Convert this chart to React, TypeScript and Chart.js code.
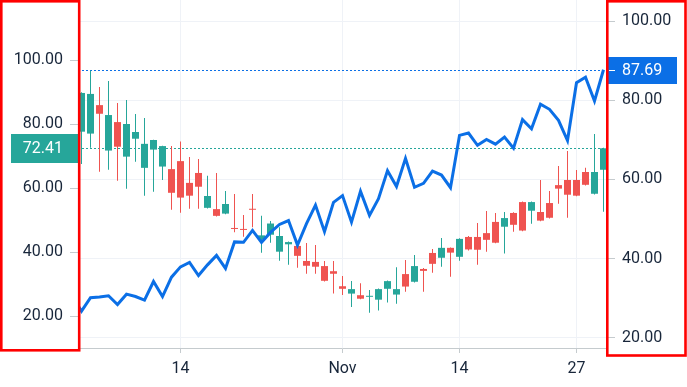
import React, { useEffect, useRef } from 'react';
import { Chart, registerables } from 'chart.js';

Chart.register(...registerables);

// ---------- data ----------
const candleDates = [
  '2022-10-03', '2022-10-04', '2022-10-05', '2022-10-06', '2022-10-07', '2022-10-08', '2022-10-09', '2022-10-10',
  '2022-10-11', '2022-10-12', '2022-10-13', '2022-10-14', '2022-10-15', '2022-10-16', '2022-10-17', '2022-10-18',
  '2022-10-19', '2022-10-20', '2022-10-21', '2022-10-22', '2022-10-23', '2022-10-24', '2022-10-25', '2022-10-26',
  '2022-10-27', '2022-10-28', '2022-10-29', '2022-10-30', '2022-10-31', '2022-11-01', '2022-11-02', '2022-11-03',
  '2022-11-04', '2022-11-05', '2022-11-06', '2022-11-07', '2022-11-08', '2022-11-09', '2022-11-10', '2022-11-11',
  '2022-11-12', '2022-11-13', '2022-11-14', '2022-11-15', '2022-11-16', '2022-11-17', '2022-11-18', '2022-11-19',
  '2022-11-20', '2022-11-21', '2022-11-22', '2022-11-23', '2022-11-24', '2022-11-25', '2022-11-26', '2022-11-27',
  '2022-11-28', '2022-11-29', '2022-11-30',
];

const opens = [
  77.6, 77.0, 85.9, 71.7, 80.6, 69.8, 75.4, 66.3, 72.0, 66.7, 65.9, 68.4, 61.6, 64.7, 53.8, 53.4,
  52.0, 47.5, 47.2, 53.5, 44.0, 45.4, 40.1, 42.4, 41.9, 37.2, 36.9, 35.6, 34.0, 29.3, 27.0, 26.5,
  26.0, 25.1, 28.5, 26.7, 33.1, 30.7, 34.7, 39.7, 38.2, 41.3, 38.5, 44.7, 44.7, 45.9, 49.4, 47.9,
  52.2, 55.6, 52.9, 52.5, 55.3, 60.9, 62.5, 62.5, 65.0, 58.2, 65.7,
];
const highs = [
  89.9, 96.7, 91.6, 93.4, 86.6, 87.5, 83.1, 81.9, 75.1, 73.2, 73.1, 74.5, 69.7, 69.1, 63.8, 64.7,
  59.1, 58.1, 51.6, 58.1, 51.3, 49.7, 47.7, 43.3, 42.9, 42.8, 42.2, 37.2, 37.2, 32.5, 30.9, 30.2,
  28.1, 28.6, 31.1, 35.2, 37.5, 39.1, 35.0, 40.9, 44.4, 41.4, 44.3, 45.0, 49.1, 52.8, 52.2, 52.5,
  52.4, 55.8, 55.8, 62.5, 59.1, 66.9, 71.6, 65.6, 66.3, 76.9, 72.6,
];
const lows = [
  67.5, 72.6, 65.1, 65.7, 62.3, 59.8, 68.2, 57.6, 58.8, 62.5, 53.2, 52.3, 53.5, 53.5, 53.6, 51.1,
  51.8, 46.2, 44.8, 47.7, 39.8, 42.9, 37.3, 36.0, 35.1, 33.2, 33.2, 30.8, 27.0, 26.6, 22.8, 25.2,
  21.0, 21.7, 24.2, 23.8, 27.6, 30.5, 27.6, 33.5, 35.4, 32.3, 37.3, 40.5, 36.0, 40.1, 42.7, 39.5,
  46.3, 46.5, 48.8, 49.6, 50.5, 55.1, 50.7, 57.4, 60.8, 58.0, 52.6,
];
const closes = [
  89.7, 89.4, 83.2, 82.8, 72.9, 80.0, 77.5, 73.8, 75.0, 73.1, 58.5, 57.0, 57.6, 60.4, 57.5, 51.3,
  55.0, 47.2, 46.9, 53.2, 45.2, 48.9, 45.0, 43.1, 38.8, 35.7, 35.4, 31.0, 33.2, 28.5, 28.4, 25.4,
  26.2, 28.4, 30.9, 28.4, 29.2, 35.6, 34.1, 36.3, 41.3, 39.8, 44.1, 40.8, 40.7, 43.8, 42.9, 50.6,
  48.5, 46.7, 55.6, 49.8, 50.7, 59.8, 57.9, 57.6, 61.0, 65.0, 72.41,
];

const lineDates = ['2022-10-02', ...candleDates];
const lineValues = [
  30.5, 26.7, 30.1, 30.3, 30.6, 28.4, 31.0, 30.4, 29.5, 34.2, 30.4, 35.3, 37.9, 39.0, 35.7, 38.4,
  40.8, 37.5, 44.2, 44.1, 47.1, 44.1, 46.6, 48.6, 49.6, 43.4, 48.8, 53.5, 46.8, 54.2, 55.9, 49.2,
  57.0, 50.9, 55.1, 62.2, 58.2, 65.3, 58.0, 59.0, 62.1, 61.1, 57.9, 71.1, 71.7, 68.6, 70.1, 68.9,
  70.7, 67.9, 75.1, 72.8, 79.0, 77.7, 74.9, 69.8, 84.4, 85.8, 79.8, 87.69,
];

const timeTickDates = ['2022-10-14', '2022-11-01', '2022-11-14', '2022-11-27'];
const timeTickLabels = ['14', 'Nov', '14', '27'];
const leftTicks = [20, 40, 60, 80, 100];
const rightTicks = [20, 40, 60, 80, 100];

// ---------- view / style ----------
const W = 687;
const H = 387;
const UP = '#26a69a';
const DOWN = '#ef5350';
const LINE = '#0b6fe6';
const TEXT = '#18263a';
const BORDER = '#c5cbce';
const GRID = '#eff2f7';
const FONT = { family: 'Roboto', size: 16 };

const dayNum = (s: string) => Math.round((Date.parse(s) - Date.parse('2022-10-01')) / 86400000) + 1;

const X_MIN = 14 - 102.5 / 9;
const X_MAX = X_MIN + 528 / 9;
const LEFT_MIN = 10;
const LEFT_MAX = 118.75;
const RIGHT_MIN = 17.4;
const RIGHT_MAX = 105.31;

const candleColor = (i: number) => (closes[i] >= opens[i] ? UP : DOWN);

const overlayPlugin = {
  id: 'overlay',
  beforeDatasetsDraw(chart: any) {
    const { ctx, chartArea, scales } = chart;
    ctx.save();
    ctx.beginPath();
    ctx.rect(chartArea.left, chartArea.top, chartArea.right - chartArea.left, chartArea.bottom - chartArea.top);
    ctx.clip();
    ctx.lineWidth = 1;
    ctx.setLineDash([2, 2]);
    const lines = [
      { y: scales.y.getPixelForValue(closes[closes.length - 1]), c: UP },
      { y: scales.y2.getPixelForValue(lineValues[lineValues.length - 1]), c: LINE },
    ];
    for (const l of lines) {
      const yy = Math.round(l.y) + 0.5;
      ctx.strokeStyle = l.c;
      ctx.beginPath();
      ctx.moveTo(chartArea.left, yy);
      ctx.lineTo(chartArea.right, yy);
      ctx.stroke();
    }
    ctx.restore();
  },
  afterDraw(chart: any) {
    const { ctx, scales, chartArea } = chart;
    ctx.save();
    ctx.font = '16px Roboto';
    ctx.textBaseline = 'middle';

    // left last-price label
    const lastC = closes[closes.length - 1];
    const yl = Math.round(scales.y.getPixelForValue(lastC));
    ctx.fillStyle = UP;
    ctx.fillRect(11, yl - 14, chartArea.left - 11, 29);
    ctx.fillStyle = '#ffffff';
    ctx.textAlign = 'right';
    ctx.fillText(lastC.toFixed(2), 63, yl + 1);

    // right last-value label
    const lastL = lineValues[lineValues.length - 1];
    const yr = Math.round(scales.y2.getPixelForValue(lastL));
    ctx.fillStyle = LINE;
    ctx.fillRect(chartArea.right + 2, yr - 13, 69, 27);
    ctx.fillStyle = '#ffffff';
    ctx.fillRect(chartArea.right + 3, yr, 6, 1);
    ctx.textAlign = 'left';
    ctx.fillText(lastL.toFixed(2), 622, yr + 1);

    // red highlight frames around the price scales
    ctx.strokeStyle = '#ff0000';
    ctx.lineWidth = 2.6;
    ctx.strokeRect(1.3, 1.3, 77.9, 349);
    ctx.strokeRect(607.3, 1.3, 78.2, 354.2);
    ctx.restore();
  },
};

export default function App() {
  const ref = useRef<HTMLCanvasElement | null>(null);

  useEffect(() => {
    const canvas = ref.current;
    if (!canvas) return;
    const chart = new Chart(canvas, {
      type: 'bar',
      data: {
        datasets: [
          {
            type: 'line',
            label: 'line',
            data: lineDates.map((d, i) => ({ x: dayNum(d), y: lineValues[i] })),
            yAxisID: 'y2',
            xAxisID: 'x',
            borderColor: LINE,
            backgroundColor: LINE,
            borderWidth: 3,
            pointRadius: 0,
            pointHoverRadius: 0,
            tension: 0,
            fill: false,
            order: 0,
            clip: 0,
          } as any,
          {
            type: 'bar',
            label: 'bodies',
            data: candleDates.map((d, i) => ({ x: dayNum(d), y: [opens[i], closes[i]] })),
            yAxisID: 'y',
            xAxisID: 'x',
            backgroundColor: (c: any) => candleColor(c.dataIndex),
            borderWidth: 0,
            grouped: false,
            maxBarThickness: 7,
            barPercentage: 1,
            categoryPercentage: 1,
            minBarLength: 1,
            inflateAmount: 0,
            order: 1,
            clip: 0,
          } as any,
          {
            type: 'bar',
            label: 'wicks',
            data: candleDates.map((d, i) => ({ x: dayNum(d), y: [lows[i], highs[i]] })),
            yAxisID: 'y',
            xAxisID: 'x',
            backgroundColor: (c: any) => candleColor(c.dataIndex),
            borderWidth: 0,
            grouped: false,
            maxBarThickness: 1,
            barPercentage: 1,
            categoryPercentage: 1,
            inflateAmount: 0,
            order: 2,
            clip: 0,
          } as any,
        ],
      },
      options: {
        responsive: false,
        animation: false,
        events: [],
        devicePixelRatio: 1,
        layout: { padding: 0 },
        plugins: { legend: { display: false }, tooltip: { enabled: false } },
        scales: {
          x: {
            type: 'linear',
            position: 'bottom',
            min: X_MIN,
            max: X_MAX,
            offset: false,
            bounds: 'data',
            afterBuildTicks: (s: any) => {
              s.ticks = timeTickDates.map((d) => ({ value: dayNum(d) }));
            },
            afterFit: (s: any) => {
              s.height = H - 348;
              s.paddingLeft = 0;
              s.paddingRight = 0;
            },
            ticks: {
              callback: (_v: any, i: number) => timeTickLabels[i],
              font: FONT,
              color: TEXT,
              padding: 6,
              maxRotation: 0,
              autoSkip: false,
            },
            grid: { color: GRID, tickColor: BORDER, tickLength: 5, offset: false },
            border: { color: BORDER },
          } as any,
          y: {
            type: 'linear',
            position: 'left',
            min: LEFT_MIN,
            max: LEFT_MAX,
            bounds: 'data',
            afterBuildTicks: (s: any) => {
              s.ticks = leftTicks.map((v) => ({ value: v }));
            },
            afterFit: (s: any) => {
              s.width = 78;
              s.paddingTop = 0;
              s.paddingBottom = 0;
            },
            ticks: {
              callback: (v: any) => Number(v).toFixed(2),
              font: FONT,
              color: TEXT,
              padding: 7,
            },
            grid: { drawOnChartArea: false, color: BORDER, tickColor: BORDER, tickLength: 8 },
            border: { color: BORDER },
          } as any,
          y2: {
            type: 'linear',
            position: 'right',
            min: RIGHT_MIN,
            max: RIGHT_MAX,
            bounds: 'data',
            afterBuildTicks: (s: any) => {
              s.ticks = rightTicks.map((v) => ({ value: v }));
            },
            afterFit: (s: any) => {
              s.width = 81;
              s.paddingTop = 0;
              s.paddingBottom = 0;
            },
            ticks: {
              callback: (v: any) => Number(v).toFixed(2),
              font: FONT,
              color: TEXT,
              padding: 7,
            },
            grid: { color: GRID, tickColor: BORDER, tickLength: 9 },
            border: { color: BORDER },
          } as any,
        },
      } as any,
      plugins: [overlayPlugin],
    });
    return () => chart.destroy();
  }, []);

  return (
    <div style={{ position: 'absolute', left: 0, top: 0, width: W, height: H, background: '#ffffff' }}>
      <canvas ref={ref} width={W} height={H} style={{ display: 'block', width: W, height: H }} />
    </div>
  );
}
